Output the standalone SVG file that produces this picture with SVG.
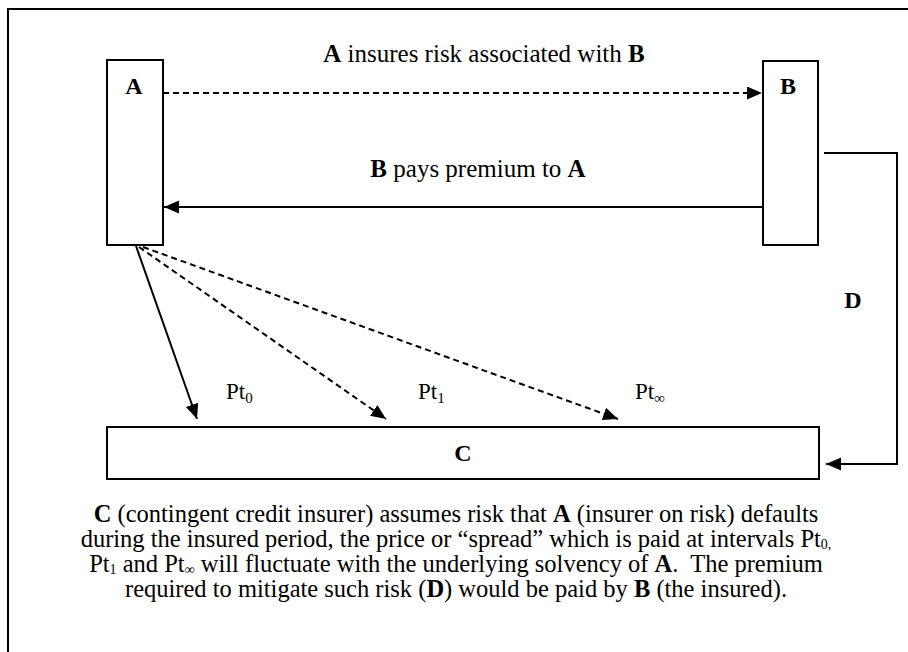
<svg xmlns="http://www.w3.org/2000/svg" width="908" height="652" viewBox="0 0 908 652">
<style>
  .box { fill: #fff; stroke: #000; stroke-width: 2; }
  .ln { fill: none; stroke: #000; stroke-width: 2; }
  .dash { stroke-dasharray: 6 4; }
  text { font-family: "Liberation Serif", "Times New Roman", serif; fill: #000; }
  .lbl { font-size: 24px; font-weight: bold; text-anchor: middle; }
  .t { font-size: 25px; text-anchor: middle; }
  .p { font-size: 24.5px; text-anchor: middle; }
  .pt { font-size: 23px; }
  .b { font-weight: bold; }
  .sub { font-size: 14px; }
</style>
<defs>
  <marker id="ah" markerUnits="userSpaceOnUse" markerWidth="16" markerHeight="14" refX="15" refY="6.5" orient="auto">
    <path d="M0,0 L15,6.5 L0,13 Z" fill="#000" stroke="none"/>
  </marker>
</defs>
<rect x="0" y="0" width="908" height="652" fill="#fff"/>
<rect id="frame" x="8" y="9" width="960" height="700" fill="none" stroke="#000" stroke-width="2"/>

<g id="connectors">
  <path class="ln dash" d="M163,93 H762" marker-end="url(#ah)"/>
  <path class="ln" d="M763,207 H164" marker-end="url(#ah)"/>
  <path class="ln" d="M824,153 H897 V464 H826" marker-end="url(#ah)"/>
  <path class="ln" d="M136,246 L197,419" marker-end="url(#ah)"/>
  <path class="ln dash" d="M139,247 L386,419" marker-end="url(#ah)"/>
  <path class="ln dash" d="M143,247 L618,419" marker-end="url(#ah)"/>
</g>

<g id="nodeA">
  <rect class="box" x="107" y="60" width="56" height="185"/>
  <text class="lbl" x="134" y="94">A</text>
</g>
<g id="nodeB">
  <rect class="box" x="763" y="61" width="55" height="184"/>
  <text class="lbl" x="788" y="94">B</text>
</g>
<g id="nodeC">
  <rect class="box" x="107" y="427" width="712" height="52"/>
  <text class="lbl" x="463" y="461">C</text>
</g>

<g id="labels">
  <text class="t" x="484" y="62"><tspan class="b">A</tspan> insures risk associated with <tspan class="b">B</tspan></text>
  <text class="t" x="478" y="177"><tspan class="b">B</tspan> pays premium to <tspan class="b">A</tspan></text>
  <text class="lbl" x="853" y="308">D</text>
  <text class="pt" x="226" y="399">Pt<tspan font-size="15" dy="4">0</tspan></text>
  <text class="pt" x="418" y="399">Pt<tspan font-size="15" dy="4">1</tspan></text>
  <text class="pt" x="635" y="399">Pt<tspan font-size="15" dy="4">∞</tspan></text>
</g>

<g id="caption">
  <text class="p" x="456" y="522"><tspan class="b">C</tspan> (contingent credit insurer) assumes risk that <tspan class="b">A</tspan> (insurer on risk) defaults</text>
  <text class="p" x="456" y="547">during the insured period, the price or “spread” which is paid at intervals Pt<tspan class="sub" dy="2">0,</tspan></text>
  <text class="p" x="456" y="572">Pt<tspan class="sub" dy="2">1</tspan><tspan dy="-2"> and Pt</tspan><tspan class="sub" dy="2">∞</tspan><tspan dy="-2"> will fluctuate with the underlying solvency of </tspan><tspan class="b">A</tspan>.&#160; The premium</text>
  <text class="p" x="456" y="597">required to mitigate such risk (<tspan class="b">D</tspan>) would be paid by <tspan class="b">B</tspan> (the insured).</text>
</g>
</svg>
